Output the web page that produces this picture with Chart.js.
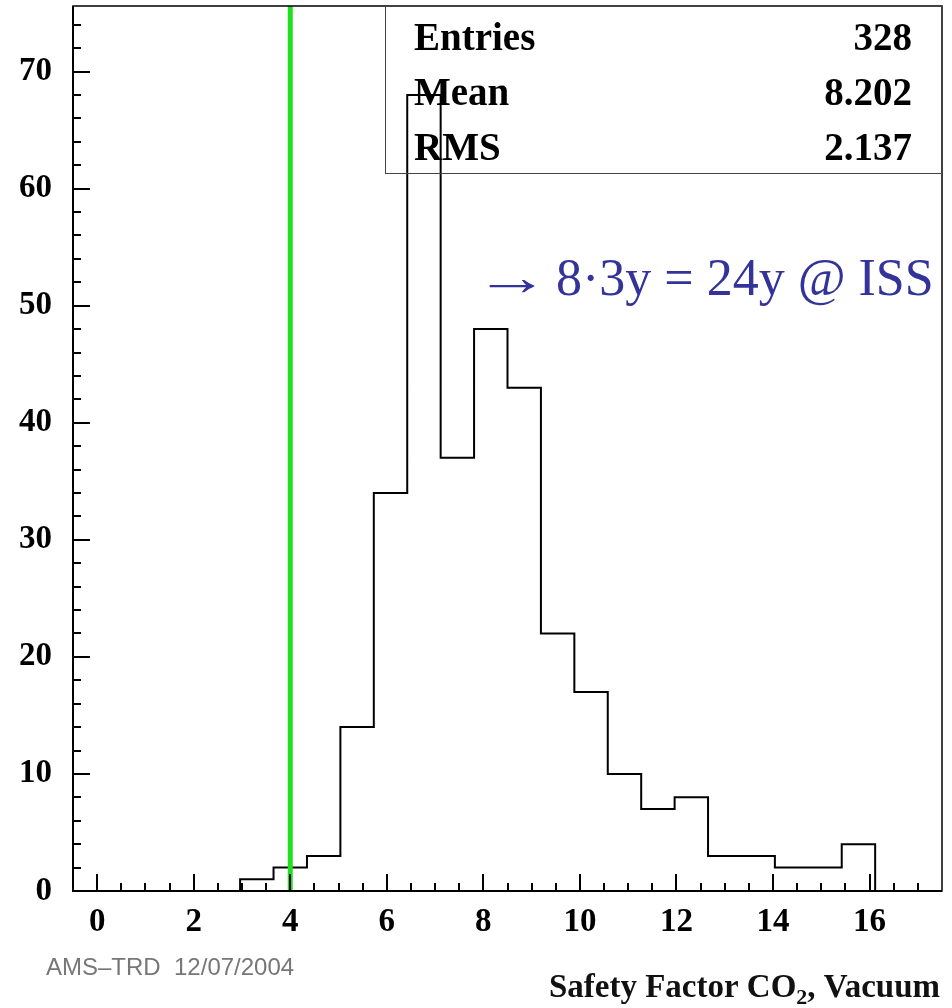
<!DOCTYPE html>
<html><head><meta charset="utf-8">
<script src="https://cdn.jsdelivr.net/npm/chart.js@4.4.1/dist/chart.umd.min.js"></script>
<style>html,body{margin:0;padding:0;background:#fff}canvas{display:block}</style>
</head><body>
<canvas id="c" width="952" height="1008"></canvas>
<script>
// Safety factor histogram (CO2, vacuum): 26 equal-width bins over [-0.5, 17.5]
const histLow = -0.5;
const histHigh = 17.5;
const binCounts = [0,0,0,0,0,1,2,3,14,34,68,37,48,43,22,17,10,7,8,3,3,2,2,4,0,0];
const xTickValues = [0,2,4,6,8,10,12,14,16];
const yTickValues = [0,10,20,30,40,50,60,70];
const yAxisMax = 75.6;
const limitValue = 4;                       // required safety factor
const statLabels = ['Entries','Mean','RMS'];
const statValues = ['328','8.202','2.137'];
const noteArrow = '\u2192';
const noteText = '8\u00b73y = 24y @ ISS';
const stampText = 'AMS\u2013TRD  12/07/2004';

// outline points: left edge of every bin, then the upper limit of the range
const binWidth = (histHigh - histLow) / binCounts.length;
const stepPoints = binCounts.map((c, i) => ({x: histLow + i * binWidth, y: c}));
stepPoints.push({x: histHigh, y: 0});

const SERIF = '"Liberation Serif", "Times New Roman", serif';

const framePlugin = {
  id: 'frame',
  beforeDraw(chart) {
    const ctx = chart.ctx;
    ctx.save();
    ctx.fillStyle = '#fff';
    ctx.fillRect(0, 0, chart.width, chart.height);
    ctx.restore();
  },
  afterDraw(chart) {
    const ctx = chart.ctx;
    const a = chart.chartArea;
    const xs = chart.scales.x, ys = chart.scales.y;
    ctx.save();
    // frame
    ctx.strokeStyle = '#000';
    ctx.lineWidth = 1.5;
    ctx.strokeRect(a.left, a.top, a.right - a.left, a.bottom - a.top);
    ctx.lineWidth = 2;
    ctx.beginPath();
    ctx.moveTo(a.left, a.top); ctx.lineTo(a.left, a.bottom); ctx.lineTo(a.right, a.bottom);
    ctx.stroke();
    // inward ticks
    ctx.lineWidth = 2;
    ctx.beginPath();
    for (let v = 0; v <= 17.001; v += 0.5) {
      const px = Math.round(xs.getPixelForValue(v));
      const len = (Math.abs(v % 2) < 1e-6) ? 17 : 8;
      ctx.moveTo(px, a.bottom); ctx.lineTo(px, a.bottom - len);
    }
    for (let v = 0; v <= yAxisMax; v += 2) {
      const py = Math.round(ys.getPixelForValue(v));
      const len = (v % 10 === 0) ? 17 : 8;
      ctx.moveTo(a.left, py); ctx.lineTo(a.left + len, py);
    }
    ctx.stroke();

    // statistics box
    const bx = a.right - 557, by = a.top, bw = 557, bh = 167;
    ctx.strokeStyle = '#444';
    ctx.lineWidth = 1;
    ctx.strokeRect(bx + 0.5, by + 0.5, bw, bh);
    ctx.fillStyle = '#000';
    ctx.font = 'bold 39px ' + SERIF;
    ctx.textBaseline = 'alphabetic';
    statLabels.forEach((lab, i) => {
      const base = by + 44 + i * 55;
      ctx.textAlign = 'left';
      ctx.fillText(lab, bx + 29, base);
      ctx.textAlign = 'right';
      ctx.fillText(statValues[i], a.right - 30, base);
    });

    // annotation: a long arrow, then the lifetime estimate
    ctx.fillStyle = '#333399';
    ctx.font = '52px ' + SERIF;
    ctx.textAlign = 'left';
    ctx.save();
    ctx.translate(474, 295);
    ctx.scale(1.45, 1);
    ctx.fillText(noteArrow, 0, 0);
    ctx.restore();
    ctx.fillText(noteText, 556, 295);

    // x-axis title with subscript
    ctx.fillStyle = '#111';
    const big = 'bold 33px ' + SERIF, small = 'bold 22px ' + SERIF;
    const p1 = 'Safety Factor CO', p2 = '2', p3 = ', Vacuum';
    ctx.font = big; const w1 = ctx.measureText(p1).width, w3 = ctx.measureText(p3).width;
    ctx.font = small; const w2 = ctx.measureText(p2).width;
    let tx = a.right - 2 - (w1 + w2 + w3);
    const tb = 997;
    ctx.textAlign = 'left';
    ctx.font = big; ctx.fillText(p1, tx, tb); tx += w1;
    ctx.font = small; ctx.fillText(p2, tx, tb + 7); tx += w2;
    ctx.font = big; ctx.fillText(p3, tx, tb);

    // date stamp
    ctx.fillStyle = '#777';
    ctx.font = '24px "Liberation Sans", Arial, sans-serif';
    ctx.fillText(stampText, 46, 975);
    ctx.restore();
  }
};

new Chart(document.getElementById('c'), {
  type: 'line',
  data: {
    datasets: [
      {
        data: [{x: limitValue, y: 0}, {x: limitValue, y: yAxisMax}],
        borderColor: '#1fe01f',
        borderWidth: 5,
        pointRadius: 0,
        order: 0
      },
      {
        data: stepPoints,
        stepped: true,
        borderColor: '#000',
        borderWidth: 2,
        pointRadius: 0,
        fill: false,
        order: 1
      }
    ]
  },
  options: {
    responsive: false,
    animation: false,
    devicePixelRatio: 1,
    layout: {padding: {top: 6, right: 10, left: 0, bottom: 0}},
    plugins: {legend: {display: false}, tooltip: {enabled: false}},
    scales: {
      x: {
        type: 'linear', min: histLow, max: histHigh,
        grid: {display: false, drawTicks: false},
        border: {display: false},
        afterBuildTicks: s => { s.ticks = xTickValues.map(v => ({value: v})); },
        afterFit: s => { s.height = 117; s.paddingLeft = 0; s.paddingRight = 0; },
        ticks: {
          padding: 12, color: '#000', maxRotation: 0,
          font: {family: SERIF, weight: 'bold', size: 33}
        }
      },
      y: {
        type: 'linear', min: 0, max: yAxisMax,
        grid: {display: false, drawTicks: false},
        border: {display: false},
        afterBuildTicks: s => { s.ticks = yTickValues.map(v => ({value: v})); },
        afterFit: s => { s.width = 73; s.paddingTop = 0; s.paddingBottom = 0; },
        ticks: {
          padding: 21, color: '#000',
          font: {family: SERIF, weight: 'bold', size: 33}
        }
      }
    }
  },
  plugins: [framePlugin]
});
</script>
</body></html>
